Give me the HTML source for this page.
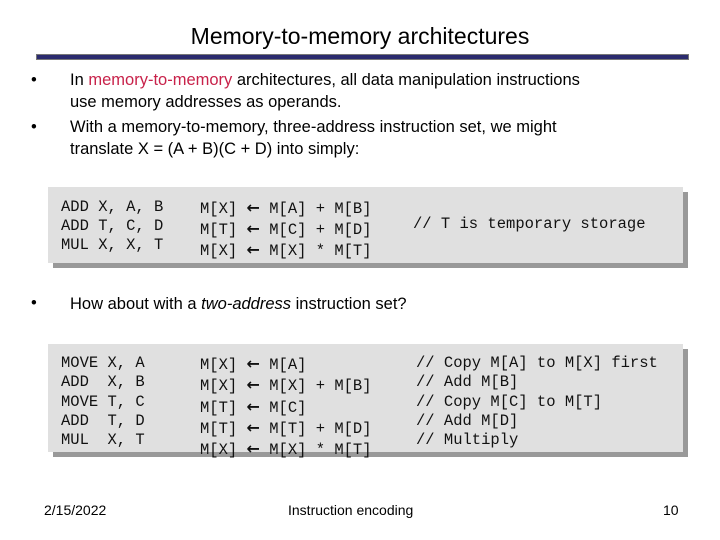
<!DOCTYPE html>
<html><head><meta charset="utf-8"><style>
body{margin:0;width:720px;height:540px;background:#fff;position:relative;overflow:hidden;font-family:"Liberation Sans",sans-serif;color:#000}
.a{position:absolute;white-space:pre;line-height:1}
.t{font-size:23px;left:0;width:720px;text-align:center;top:25px}
.b{font-size:16.5px}
.m{font-family:"Liberation Mono",monospace;font-size:15.5px;color:#111}
.box{position:absolute;background:#e0e0e0;box-shadow:5px 5px 0 #999}
.f{font-size:14px}
.m b{font-family:"DejaVu Sans",sans-serif;font-size:16px}
</style></head><body>
<div class="a t">Memory-to-memory architectures</div>
<div style="position:absolute;left:36px;top:54px;width:651px;height:4px;background:#2b2b6e;border:1px solid #777"></div>
<div class="a b" style="left:31px;top:72px">•</div>
<div class="a b" style="left:70px;top:72px">In <span style="color:#c8224a">memory-to-memory</span> architectures, all data manipulation instructions</div>
<div class="a b" style="left:70px;top:94px">use memory addresses as operands.</div>
<div class="a b" style="left:31px;top:119px">•</div>
<div class="a b" style="left:70px;top:119px">With a memory-to-memory, three-address instruction set, we might</div>
<div class="a b" style="left:70px;top:141px">translate X = (A + B)(C + D) into simply:</div>
<div class="box" style="left:48px;top:187px;width:635px;height:76px"></div>
<div class="a m" style="left:61px;top:198px;line-height:19px">ADD X, A, B
ADD T, C, D
MUL X, X, T</div>
<div class="a m" style="left:200px;top:198px;line-height:19px">M[X] <b>←</b> M[A] + M[B]
M[T] <b>←</b> M[C] + M[D]
M[X] <b>←</b> M[X] * M[T]</div>
<div class="a m" style="left:413px;top:217px">// T is temporary storage</div>
<div class="a b" style="left:31px;top:295px">•</div>
<div class="a b" style="left:70px;top:296px">How about with a <i>two-address</i> instruction set?</div>
<div class="box" style="left:48px;top:344px;width:635px;height:108px"></div>
<div class="a m" style="left:61px;top:354px;line-height:19.3px">MOVE X, A
ADD  X, B
MOVE T, C
ADD  T, D
MUL  X, T</div>
<div class="a m" style="left:200px;top:354px;line-height:19.3px">M[X] <b>←</b> M[A]
M[X] <b>←</b> M[X] + M[B]
M[T] <b>←</b> M[C]
M[T] <b>←</b> M[T] + M[D]
M[X] <b>←</b> M[X] * M[T]</div>
<div class="a m" style="left:416px;top:354px;line-height:19.3px">// Copy M[A] to M[X] first
// Add M[B]
// Copy M[C] to M[T]
// Add M[D]
// Multiply</div>
<div class="a f" style="left:44px;top:503px">2/15/2022</div>
<div class="a f" style="left:288px;top:503px">Instruction encoding</div>
<div class="a f" style="left:663px;top:503px">10</div>
</body></html>
